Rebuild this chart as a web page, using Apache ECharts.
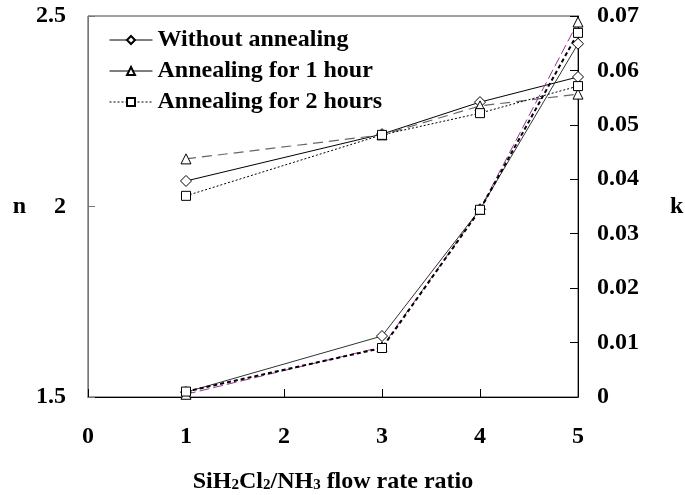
<!DOCTYPE html>
<html>
<head>
<meta charset="utf-8">
<script src="https://cdn.jsdelivr.net/npm/echarts@6/dist/echarts.min.js"></script>
<style>
  html, body { margin: 0; padding: 0; background: #fff; }
  #chart { width: 685px; height: 495px; }
</style>
</head>
<body>
<div id="chart"></div>
<script>
// SiH2Cl2/NH3 flow rate ratio at each sample
const ratios = [1, 3, 4, 5];

// refractive index n (left axis)
const nWithout = [2.067, 2.19, 2.274, 2.34];
const nOneHour = [2.125, 2.188, 2.264, 2.295];
const nTwoHours = [2.028, 2.188, 2.245, 2.316];

// extinction coefficient k (right axis)
const kWithout = [0.0009, 0.0112, 0.0345, 0.0649];
const kOneHour = [0.0005, 0.0092, 0.0345, 0.0689];
const kTwoHours = [0.001, 0.009, 0.0344, 0.0669];

const SERIES_NAMES = ['Without annealing', 'Annealing for 1 hour', 'Annealing for 2 hours'];
const FONT = "'Liberation Serif', 'Times New Roman', serif";
const FONT_SIZE = 24;

const pairs = values => ratios.map((r, i) => [r, values[i]]);

function lineSeries(name, values, axisIndex, symbol, size, line) {
    return {
        name: name,
        type: 'line',
        yAxisIndex: axisIndex,
        data: pairs(values),
        symbol: symbol,
        symbolSize: size,
        showAllSymbol: true,
        lineStyle: line,
        itemStyle: { color: '#fff', borderColor: '#000', borderWidth: 1 },
        emphasis: { disabled: true },
        animation: false
    };
}

const chart = echarts.init(document.getElementById('chart'));

const axisText = { fontFamily: FONT, fontWeight: 'bold', fontSize: FONT_SIZE, color: '#000' };

chart.setOption({
    backgroundColor: '#fff',
    grid: {
        left: 88, right: 107, top: 16, bottom: 98,
        outerBoundsMode: 'none',
        show: true, borderColor: '#444', borderWidth: 1
    },
    legend: {
        orient: 'vertical',
        left: 109,
        top: 28,
        padding: 0,
        itemWidth: 43,
        itemHeight: 10,
        itemGap: 7,
        textStyle: { fontFamily: FONT, fontWeight: 'bold', fontSize: FONT_SIZE, lineHeight: 24, color: '#000' },
        data: [
            { name: SERIES_NAMES[0], lineStyle: { type: 'solid', color: '#000', width: 1 } },
            { name: SERIES_NAMES[1], lineStyle: { type: 'solid', color: '#000', width: 1 } },
            { name: SERIES_NAMES[2], lineStyle: { type: [2, 2], color: '#000', width: 1 } }
        ]
    },
    xAxis: {
        type: 'value',
        min: 0, max: 5, interval: 1,
        name: 'SiH{s|2}Cl{s|2}/NH{s|3} flow rate ratio',
        nameLocation: 'middle',
        nameGap: 73,
        nameTextStyle: Object.assign({}, axisText, {
            rich: { s: { fontFamily: FONT, fontWeight: 'bold', fontSize: 15, color: '#000', padding: [7, 0, 0, 0] } }
        }),
        axisLine: { lineStyle: { color: '#000' } },
        axisTick: { inside: true, length: 8, lineStyle: { color: '#000' } },
        axisLabel: Object.assign({ margin: 28 }, axisText),
        splitLine: { show: false }
    },
    yAxis: [
        {
            type: 'value',
            min: 1.5, max: 2.5, interval: 0.5,
            name: 'n',
            nameLocation: 'middle',
            nameRotate: 0,
            nameGap: 62,
            nameTextStyle: axisText,
            axisLine: { show: true, lineStyle: { color: '#777' } },
            axisTick: { show: true, inside: true, length: 7, lineStyle: { color: '#777' } },
            axisLabel: Object.assign({ margin: 22 }, axisText),
            splitLine: { show: false }
        },
        {
            type: 'value',
            min: 0, max: 0.07, interval: 0.01,
            name: 'k',
            nameLocation: 'middle',
            nameRotate: 0,
            nameGap: 92,
            nameTextStyle: axisText,
            axisLine: { show: true, lineStyle: { color: '#000' } },
            axisTick: { show: true, inside: true, length: 8, lineStyle: { color: '#000' } },
            axisLabel: Object.assign({ margin: 19 }, axisText),
            splitLine: { show: false }
        }
    ],
    series: [
        lineSeries(SERIES_NAMES[0], nWithout, 0, 'diamond', 11, { color: '#000', width: 1, type: 'solid' }),
        lineSeries(SERIES_NAMES[1], nOneHour, 0, 'triangle', 10, { color: '#666', width: 1.2, type: [10, 6] }),
        lineSeries(SERIES_NAMES[2], nTwoHours, 0, 'rect', 9, { color: '#000', width: 1, type: [2, 2] }),
        lineSeries(SERIES_NAMES[0], kWithout, 1, 'diamond', 11, { color: '#333', width: 1, type: 'solid' }),
        lineSeries(SERIES_NAMES[1], kOneHour, 1, 'triangle', 10, { color: '#993399', width: 1, type: [10, 4] }),
        lineSeries(SERIES_NAMES[2], kTwoHours, 1, 'rect', 9, { color: '#000', width: 2, type: [4, 3] })
    ]
});
</script>
</body>
</html>
